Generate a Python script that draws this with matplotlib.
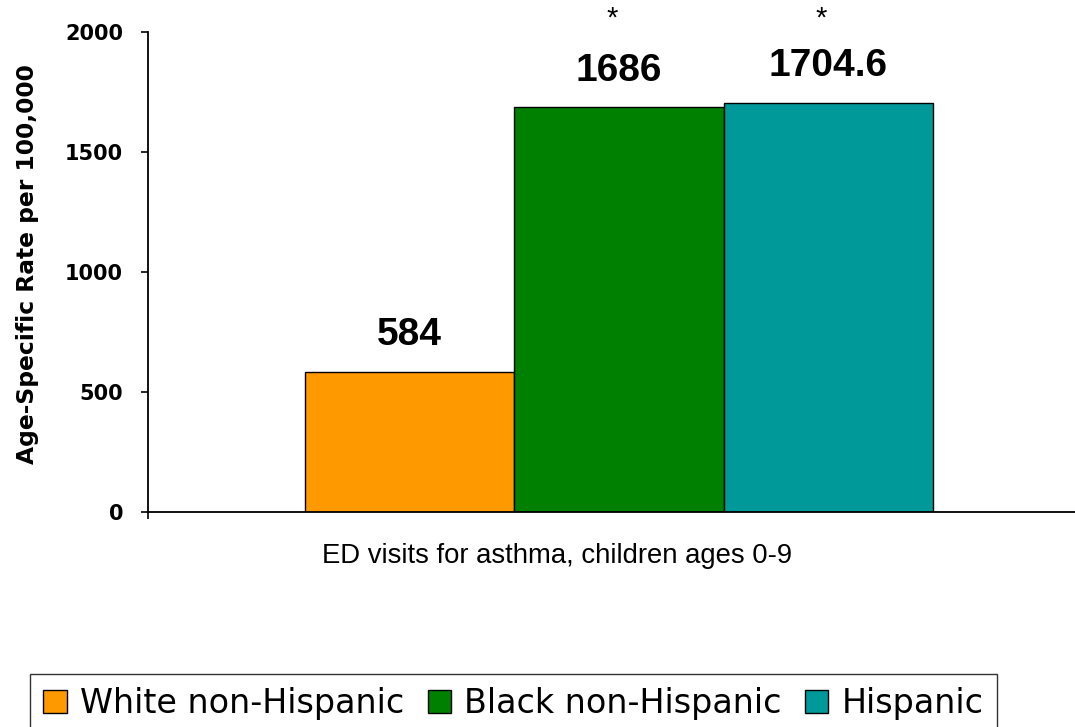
import matplotlib
matplotlib.use("Agg")
import matplotlib.pyplot as plt
from matplotlib.patches import Patch

plt.rcParams['font.family'] = ['Liberation Sans', 'DejaVu Sans']

# Data
groups = ["White non-Hispanic", "Black non-Hispanic", "Hispanic"]
rates = [584, 1686, 1704.6]
rate_labels = ["584", "1686", "1704.6"]
significant = [False, True, True]
colors = ["#FF9900", "#008000", "#009999"]
category = "ED visits for asthma, children ages 0-9"
yticks = [0, 500, 1000, 1500, 2000]

W, H = 1075, 727
fig = plt.figure(figsize=(W / 100, H / 100), dpi=100)
ax = fig.add_axes([148 / W, 1 - 512 / H, 942 / W, 480 / H])

positions = [-1, 0, 1]
ax.bar(positions, rates, width=1.0, color=colors, edgecolor="black",
       linewidth=1.0, zorder=2)

ax.set_xlim(-2.25, 2.25)
ax.set_ylim(0, 2000)
ax.set_yticks(yticks)
ax.set_yticklabels([str(t) for t in yticks], fontsize=15, fontweight="bold",
                   family="DejaVu Sans")
ax.tick_params(axis="y", direction="out", length=5, width=1.2, pad=13)
ax.set_xticks([-2.25])
ax.set_xticklabels([""])
ax.tick_params(axis="x", direction="out", length=5, width=1.2)

for side in ("top", "right"):
    ax.spines[side].set_visible(False)
for side in ("left", "bottom"):
    ax.spines[side].set_linewidth(1.3)
ax.spines["bottom"].set_clip_on(False)

# Value labels above bars and significance markers
for x, v, lab, sig in zip(positions, rates, rate_labels, significant):
    ax.text(x, v + 152, lab, ha="center", va="center", fontsize=28,
            fontweight="bold", clip_on=False)
    if sig:
        ax.text(x - 0.035, 2058, "*", ha="center", va="center", fontsize=21,
                clip_on=False)

fig.text(557 / W, 1 - 556 / H, category, ha="center", va="center", fontsize=19.8)
fig.text(28 / W, 1 - 264 / H, "Age-Specific Rate per 100,000", rotation=90,
         ha="center", va="center", fontsize=16.8, fontweight="bold",
         family="DejaVu Sans")

handles = [Patch(facecolor=c, edgecolor="black", linewidth=1.0) for c in colors]
leg = fig.legend(handles, groups, loc="upper left",
                 bbox_to_anchor=(30 / W, 1 - 674 / H), ncol=3,
                 prop={"family": "DejaVu Sans", "size": 24},
                 frameon=True, fancybox=False, shadow=False,
                 handlelength=0.7, handleheight=0.7, handletextpad=0.4,
                 columnspacing=0.7, borderpad=0.4, borderaxespad=0)
leg.get_frame().set_edgecolor("black")
leg.get_frame().set_linewidth(1.0)

fig.savefig("out.png", dpi=100)
